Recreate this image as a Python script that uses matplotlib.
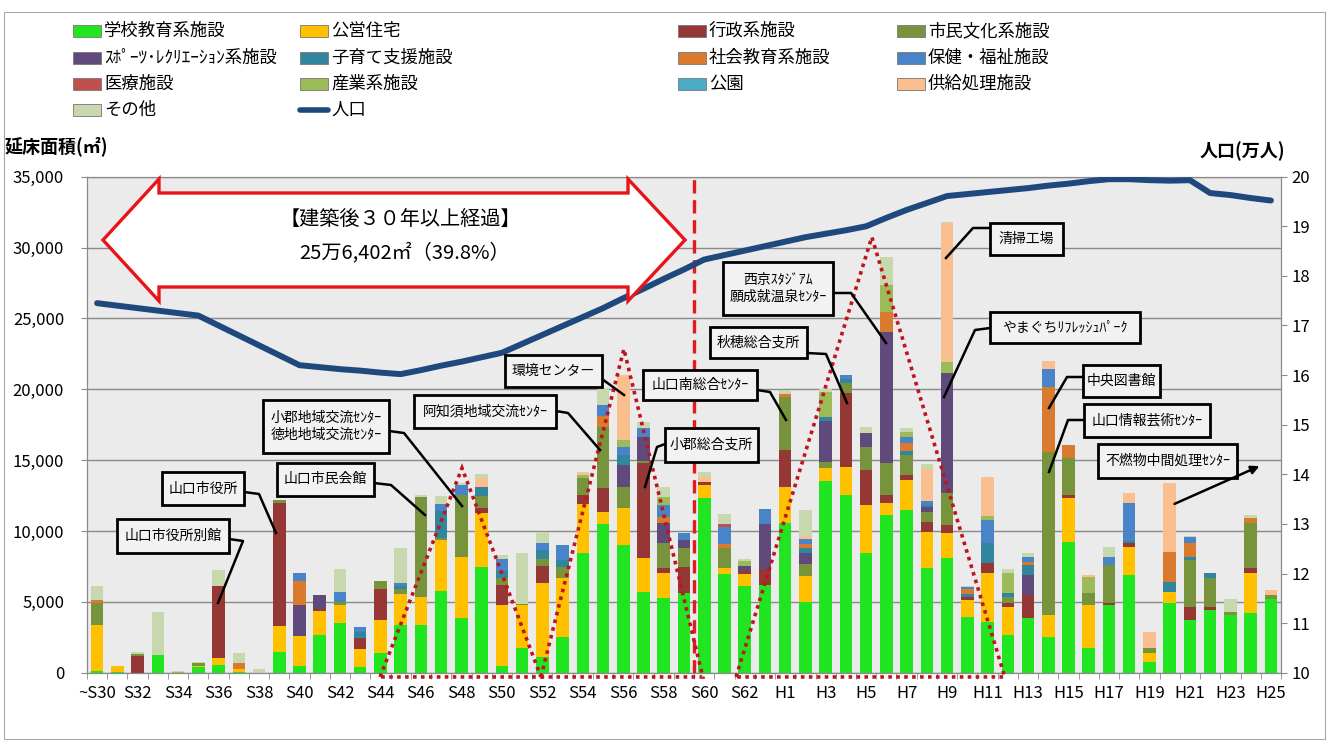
import matplotlib.pyplot as plt
from matplotlib.patches import Rectangle, Polygon
from matplotlib.ticker import FuncFormatter
import numpy as np

plt.rcParams['font.family'] = ['Noto Sans CJK JP', 'DejaVu Sans']

W, H = 1330, 744

years = ['~S30'] + ['S%d' % n for n in range(31, 64)] + ['H%d' % n for n in range(1, 26)]

names = ['学校教育系施設', '公営住宅', '行政系施設', '市民文化系施設',
         'ｽﾎﾟｰﾂ･ﾚｸﾘｴｰｼｮﾝ系施設', '子育て支援施設', '社会教育系施設', '保健・福祉施設',
         '医療施設', '産業系施設', '公園', '供給処理施設', 'その他']
colors = ['#21E521', '#FFC000', '#953735', '#77933C',
          '#604A7B', '#31859C', '#DA7A2E', '#4A84C8',
          '#C0504D', '#9BBB59', '#4BACC6', '#FBBF8F', '#C8D8AE']

# floor area by year (m2), one list per facility type, ~S30 .. H25
school = [100, 50, 0, 1250, 0, 400, 550, 50, 0, 1440,
          470, 2660, 3500, 420, 1370, 3370, 3370, 5750, 3840, 7450,
          450, 1720, 1100, 2500, 8420, 10480, 9010, 5720, 5250, 5600,
          12300, 7000, 6100, 6200, 10540, 5000, 13500, 12540, 8420, 11130,
          11480, 7370, 8070, 3950, 3600, 2660, 3840, 2540, 9250, 1750,
          4800, 6890, 780, 4900, 3720, 4430, 4070, 4190, 5180]
housing = [3250, 400, 0, 0, 0, 100, 470, 200, 0, 1830,
           2120, 1720, 1250, 1230, 2350, 2180, 1990, 3600, 4350, 3800,
           4300, 3050, 5200, 4200, 3450, 830, 2590, 2350, 1760, 0,
           940, 400, 850, 0, 2580, 1800, 950, 2000, 3410, 820,
           2120, 2580, 1760, 1180, 3410, 2000, 0, 1530, 3050, 3050,
           0, 2000, 590, 820, 0, 0, 0, 2820, 0]
admin = [0, 0, 1150, 0, 0, 0, 5100, 0, 0, 8700,
         0, 100, 0, 780, 2160, 0, 0, 0, 0, 350,
         1450, 0, 1250, 0, 650, 1700, 0, 6710, 360, 1880,
         200, 0, 200, 1100, 2590, 0, 0, 5170, 2470, 590,
         350, 710, 590, 200, 710, 250, 1640, 0, 240, 0,
         100, 250, 0, 0, 940, 240, 0, 360, 0]
civic = [1550, 0, 150, 0, 0, 150, 0, 0, 0, 200,
         0, 0, 240, 0, 610, 330, 7020, 150, 4350, 870,
         500, 100, 500, 750, 1250, 4300, 1520, 150, 1760, 1300,
         0, 1400, 0, 0, 3770, 900, 400, 700, 1650, 2240,
         1410, 700, 2240, 0, 0, 450, 0, 11520, 2590, 800,
         2700, 0, 350, 0, 3290, 2000, 230, 3170, 300]
sports = [0, 0, 0, 0, 0, 0, 0, 0, 0, 0,
          2190, 980, 0, 0, 0, 0, 0, 0, 0, 0,
          0, 0, 0, 0, 0, 0, 1530, 1730, 1410, 550,
          0, 0, 350, 3200, 0, 750, 2900, 0, 940, 9280,
          0, 300, 8470, 0, 0, 0, 1410, 0, 0, 0,
          0, 0, 0, 0, 0, 0, 0, 0, 0]
childcare = [0, 0, 0, 0, 0, 0, 0, 0, 0, 0,
             0, 0, 0, 450, 0, 250, 0, 1900, 0, 650,
             500, 0, 600, 500, 0, 0, 700, 0, 0, 0,
             0, 0, 0, 0, 0, 350, 300, 300, 0, 0,
             250, 150, 0, 200, 1410, 250, 700, 0, 0, 0,
             0, 150, 0, 700, 240, 350, 0, 0, 0]
social_edu = [200, 0, 0, 0, 0, 0, 0, 450, 0, 0,
              1690, 0, 0, 0, 0, 0, 0, 0, 0, 0,
              0, 0, 0, 0, 0, 800, 0, 0, 470, 0,
              0, 300, 0, 0, 200, 250, 0, 0, 0, 1410,
              570, 0, 0, 350, 0, 0, 200, 4590, 940, 0,
              0, 0, 0, 2120, 940, 0, 0, 350, 0]
health = [0, 0, 0, 0, 0, 0, 0, 0, 0, 0,
          540, 0, 710, 370, 0, 220, 0, 500, 680, 0,
          800, 0, 500, 1050, 0, 800, 600, 590, 820, 500,
          0, 1200, 0, 1050, 0, 350, 0, 300, 0, 0,
          480, 300, 0, 150, 1640, 0, 400, 1250, 0, 0,
          550, 2700, 0, 0, 470, 0, 0, 0, 0]
medical = [0] * 31 + [200] + [0] * 27
industry = [0, 0, 0, 0, 50, 0, 0, 0, 0, 0,
            0, 0, 0, 0, 0, 0, 0, 0, 0, 0,
            0, 0, 0, 0, 200, 0, 470, 0, 590, 0,
            0, 0, 350, 0, 0, 0, 1750, 0, 0, 1890,
            300, 0, 820, 0, 280, 1400, 0, 0, 0, 1130,
            0, 0, 0, 0, 0, 0, 0, 0, 0]
park = [0] * 59
supply = [0, 0, 0, 0, 0, 0, 0, 0, 0, 0,
          0, 0, 0, 0, 0, 0, 0, 0, 0, 600,
          0, 0, 0, 0, 100, 0, 4580, 0, 0, 0,
          400, 0, 0, 0, 0, 250, 0, 0, 0, 0,
          0, 2240, 9760, 0, 2780, 0, 0, 590, 0, 160,
          0, 710, 1170, 4820, 0, 0, 0, 0, 360]
other = [1000, 0, 150, 3000, 80, 100, 1130, 700, 250, 0,
         0, 0, 1600, 0, 0, 2430, 160, 550, 150, 330,
         300, 3550, 800, 0, 100, 1200, 0, 450, 700, 0,
         300, 700, 150, 0, 250, 1800, 250, 0, 470, 1950,
         300, 350, 100, 70, 0, 290, 230, 0, 0, 0,
         750, 0, 0, 0, 70, 0, 880, 240, 0]

# population (10,000 persons)
population = [17.45, 17.40, 17.35, 17.30, 17.25, 17.20, 17.00, 16.80, 16.60, 16.40,
              16.20, 16.16, 16.12, 16.09, 16.05, 16.02, 16.10, 16.19, 16.27, 16.36,
              16.45, 16.63, 16.81, 16.99, 17.17, 17.35, 17.55, 17.74, 17.94, 18.13,
              18.33, 18.42, 18.51, 18.60, 18.69, 18.78, 18.85, 18.92, 19.00, 19.17,
              19.33, 19.47, 19.61, 19.65, 19.69, 19.73, 19.77, 19.82, 19.86, 19.91,
              19.95, 19.95, 19.93, 19.92, 19.93, 19.67, 19.63, 19.57, 19.52]

series = [school, housing, admin, civic, sports, childcare, social_edu,
          health, medical, industry, park, supply, other]

fig = plt.figure(figsize=(W / 100, H / 100), dpi=100)
L, R, T, B = 87, 1281, 176.7, 672.7
ax = fig.add_axes([L / W, 1 - B / H, (R - L) / W, (B - T) / H])
ax.set_facecolor('#EBEBEB')

x = np.arange(len(years))
bottom = np.zeros(len(years))
for vals, c in zip(series, colors):
    ax.bar(x, vals, width=0.62, bottom=bottom, color=c, linewidth=0, zorder=2)
    bottom += np.array(vals)

ax.set_xlim(-0.5, len(years) - 0.5)
ax.set_ylim(0, 35000)
ax.set_yticks(range(0, 35001, 5000))
ax.yaxis.set_major_formatter(FuncFormatter(lambda v, p: '{:,}'.format(int(v))))
ax.grid(axis='y', color='#8a8a8a', lw=1, zorder=1)
ax.set_axisbelow(True)
ax.set_xticks(x[::2])
ax.set_xticklabels(years[::2])
ax.set_xticks(np.arange(-0.5, len(years), 1), minor=True)
ax.tick_params(axis='x', which='major', length=0, pad=9, labelsize=12)
ax.tick_params(axis='x', which='minor', length=4.5, color='#8a8a8a')
ax.tick_params(axis='y', length=4.5, color='#8a8a8a', pad=12, labelsize=12)
for s in ax.spines.values():
    s.set_color('#8a8a8a')

# dashed line: 30 years
ax.axvline(29.5, color='#E41A1C', lw=2.4, ls=(0, (4, 2)), zorder=4)

ax2 = ax.twinx()
ax2.set_ylim(10, 20)
ax2.set_yticks(range(10, 21))
ax2.tick_params(axis='y', length=4.5, color='#8a8a8a', pad=3, labelsize=12)
for s in ax2.spines.values():
    s.set_color('#8a8a8a')
ax2.plot(x, population, color='#1F497D', lw=4.3, solid_capstyle='round', zorder=5)

# dotted triangles (x in bar index, y in m2)
tri_style = dict(fill=False, ec='#C0141C', lw=2.6, ls=(0, (1, 1.2)),
                 transform=ax.transData, clip_on=False, zorder=4)
for pts in [[(13.98, -300), (18.03, 14440), (21.93, -300)],
            [(21.93, -300), (26.03, 22840), (29.93, -300)],
            [(31.57, -300), (38.28, 30740), (44.85, -300)]]:
    ax2.add_patch(Polygon(pts, closed=True, **tri_style))

# overlay in pixel coordinates for callouts and legend
ov = fig.add_axes([0, 0, 1, 1], zorder=10)
ov.set_xlim(0, W)
ov.set_ylim(H, 0)
ov.axis('off')
ov.patch.set_alpha(0)

# outer frame
ov.add_patch(Rectangle((4, 12), W - 9, H - 17, fill=False, ec='#a6a6a6', lw=0.8))

# legend
leg_cols = [73, 300, 678, 897]
leg_rows = [31, 58, 84, 110]
for i, (n, c) in enumerate(zip(names, colors)):
    lx = leg_cols[i % 4]
    ly = leg_rows[i // 4]
    ov.add_patch(Rectangle((lx, ly - 6), 28, 12, fc=c, ec='#777777', lw=0.6))
    ov.text(lx + 31, ly, n, fontsize=12.5, va='center', ha='left')
ov.plot([leg_cols[1], leg_cols[1] + 28], [leg_rows[3], leg_rows[3]],
        color='#1F497D', lw=4, solid_capstyle='round')
ov.text(leg_cols[1] + 31, leg_rows[3], '人口', fontsize=12.5, va='center', ha='left')

ov.text(5, 146, '延床面積(㎡)', fontsize=13, fontweight='bold', va='center')
ov.text(1285, 151, '人口(万人)', fontsize=13, fontweight='bold', va='center', ha='right')

# double headed arrow
arrow = [(103, 240), (159, 179), (159, 193), (628, 193), (628, 179), (685, 240),
         (628, 301), (628, 287), (159, 287), (159, 301)]
ov.add_patch(Polygon(arrow, closed=True, fc='white', ec='#E8141A', lw=2.4, zorder=3))
ov.text(400, 219, '【建築後３０年以上経過】', fontsize=14.5, ha='center', va='center', zorder=4)
ov.text(405, 253, '25万6,402㎡（39.8%）', fontsize=14.5, ha='center', va='center', zorder=4)

callouts = [
    ('山口市役所別館', (117, 519, 229, 553), [(229, 539), (243, 541), (218, 603)]),
    ('山口市役所', (162, 472, 244, 505), [(244, 492), (259, 494), (276, 533)]),
    ('山口市民会館', (277, 463, 374, 496), [(374, 483), (391, 485), (425, 515)]),
    ('小郡地域交流ｾﾝﾀｰ\n徳地地域交流ｾﾝﾀｰ', (263, 400, 389, 453), [(389, 431), (404, 433), (462, 506)]),
    ('阿知須地域交流ｾﾝﾀｰ', (414, 395, 556, 428), [(556, 411), (568, 413), (600, 450)]),
    ('環境センター', (505, 355, 602, 387), [(602, 379), (624, 395)]),
    ('小郡総合支所', (665, 428, 758, 462), [(665, 444), (657, 447), (645, 487)]),
    ('山口南総合ｾﾝﾀｰ', (643, 370, 757, 400), [(757, 390), (770, 392), (786, 420)]),
    ('秋穂総合支所', (710, 327, 807, 358), [(807, 353), (826, 354), (847, 403)]),
    ('西京ｽﾀｼﾞｱﾑ\n願成就温泉ｾﾝﾀｰ', (723, 262, 833, 315), [(833, 293), (851, 293), (886, 343)]),
    ('清掃工場', (990, 223, 1063, 255), [(990, 228), (973, 228), (946, 258)]),
    ('やまぐちﾘﾌﾚｯｼｭﾊﾟｰｸ', (990, 312, 1140, 343), [(990, 328), (975, 330), (944, 397)]),
    ('中央図書館', (1083, 365, 1160, 397), [(1083, 377), (1067, 377), (1049, 408)]),
    ('山口情報芸術ｾﾝﾀｰ', (1084, 404, 1210, 437), [(1084, 420), (1068, 420), (1049, 472)]),
    ('不燃物中間処理ｾﾝﾀｰ', (1098, 444, 1237, 478), None),
]
for text, (x0, y0, x1, y1), line in callouts:
    ov.add_patch(Rectangle((x0, y0), x1 - x0, y1 - y0, fc='#F2F2F2', ec='black', lw=2.0, zorder=6))
    ov.text((x0 + x1) / 2, (y0 + y1) / 2, text, fontsize=10, ha='center', va='center',
            linespacing=1.3, zorder=7)
    if line:
        xs, ys = zip(*line)
        ov.plot(xs, ys, color='black', lw=1.8, zorder=5)
ov.annotate('', xy=(1262, 465), xytext=(1172, 505),
            arrowprops=dict(arrowstyle='-|>', color='black', lw=1.8, mutation_scale=12), zorder=8)

fig.savefig('out.png', dpi=100)
